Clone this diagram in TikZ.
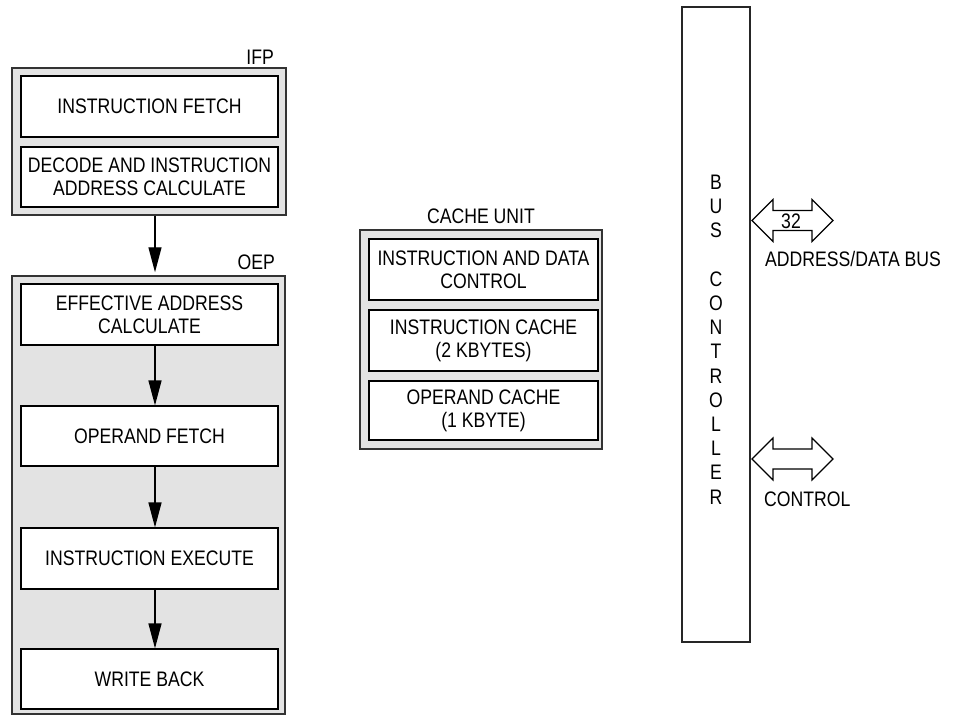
\documentclass[tikz,border=0pt]{standalone}
\usepackage{fontspec}
\setmainfont{Liberation Sans}[FakeStretch=0.84]
\usetikzlibrary{arrows.meta}
\begin{document}
\begin{tikzpicture}[x=1pt,y=-1pt,
  every node/.style={font=\fontsize{21pt}{23pt}\selectfont, inner sep=0pt, align=center},
  outerbox/.style={draw=black!80, line width=1.5pt, fill=black!11},
  innerbox/.style={draw=black, line width=1.2pt, fill=white},
  busbox/.style={draw=black!85, line width=1.5pt, fill=white},
  flowarr/.style={line width=1.3pt, -{Triangle[length=25pt,width=13pt]}},
  dblarr/.style={draw=black, line width=1.1pt, fill=white},
  lbl/.style={}
]
\useasboundingbox (0,0) rectangle (953,715);

% IFP
\node[outerbox, minimum width=274pt, minimum height=147pt] (ifp) at (149,141.5) {};
\node[lbl, anchor=east] (ifpl) at (274,57) {IFP};
\node[innerbox, minimum width=257pt, minimum height=61pt] (if) at (149.5,106.5) {INSTRUCTION FETCH};
\node[innerbox, minimum width=257pt, minimum height=60pt] (dec) at (149.5,177) {DECODE AND INSTRUCTION\\ADDRESS CALCULATE};

% OEP
\node[outerbox, minimum width=273pt, minimum height=438pt] (oep) at (148.5,495) {};
\node[lbl, anchor=east] (oepl) at (275,262) {OEP};
\node[innerbox, minimum width=257pt, minimum height=61pt] (ea) at (149.5,314.5) {EFFECTIVE ADDRESS\\CALCULATE};
\node[innerbox, minimum width=257pt, minimum height=60pt] (of) at (149.5,436) {OPERAND FETCH};
\node[innerbox, minimum width=257pt, minimum height=61pt] (ie) at (149.5,558.5) {INSTRUCTION EXECUTE};
\node[innerbox, minimum width=257pt, minimum height=60pt] (wb) at (149.5,679) {WRITE BACK};

\draw[flowarr] ([xshift=6pt]ifp.south) -- ([xshift=6.5pt,yshift=3pt]oep.north);
\draw[flowarr] ([xshift=5.5pt]ea.south) -- ([xshift=5.5pt]of.north);
\draw[flowarr] ([xshift=5.5pt]of.south) -- ([xshift=5.5pt]ie.north);
\draw[flowarr] ([xshift=5.5pt]ie.south) -- ([xshift=5.5pt]wb.north);

% Cache unit
\node[outerbox, minimum width=242pt, minimum height=219pt] (cache) at (481,339.5) {};
\node[lbl] (cachel) at (481,216.5) {CACHE UNIT};
\node[innerbox, minimum width=229pt, minimum height=61pt] (idc) at (483.5,269.5) {INSTRUCTION AND DATA\\CONTROL};
\node[innerbox, minimum width=229pt, minimum height=61pt] (ic) at (483.5,340.5) {INSTRUCTION CACHE\\(2 KBYTES)};
\node[innerbox, minimum width=229pt, minimum height=59pt] (oc) at (483.5,410.5) {OPERAND CACHE\\(1 KBYTE)};

% Bus controller
\node[busbox, minimum width=68pt, minimum height=635pt] (bus) at (716,324.5) {};
\node[font=\fontsize{21pt}{24.2pt}\selectfont] (busl) at (716,339.5) {B\\U\\S\\[24.2pt]C\\O\\N\\T\\R\\O\\L\\L\\E\\R};

% Address/data bus arrow
\coordinate (ad) at (752,220.5);
\draw[dblarr] (ad) -- ++(21,-21) -- ++(0,11) -- ++(39,0) -- ++(0,-11) -- ++(21,21)
  -- ++(-21,21) -- ++(0,-11) -- ++(-39,0) -- ++(0,11) -- cycle;
\node (n32) at (791,221.5) {32};
\node[lbl, anchor=west] (adl) at (765,259) {ADDRESS/DATA BUS};

% Control arrow
\coordinate (ct) at (752,459);
\draw[dblarr] (ct) -- ++(21,-21) -- ++(0,11) -- ++(39,0) -- ++(0,-11) -- ++(21,21)
  -- ++(-21,21) -- ++(0,-11) -- ++(-39,0) -- ++(0,11) -- cycle;
\node[lbl, anchor=west] (ctl) at (764,499) {CONTROL};
\end{tikzpicture}
\end{document}
